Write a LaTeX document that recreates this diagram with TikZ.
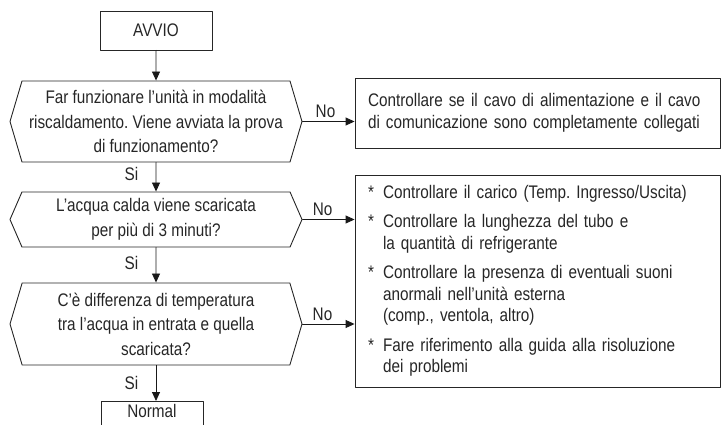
\documentclass[tikz,border=0pt]{standalone}
\usepackage{fontspec}
\setmainfont{Liberation Sans}[FakeStretch=0.84]
\usetikzlibrary{arrows.meta,shapes.symbols}
\frenchspacing

\begin{document}
\begin{tikzpicture}[x=1pt,y=-1pt,>={Triangle[length=9pt,width=8pt]},line cap=round,line join=round,
  every node/.style={font=\fontsize{18.2}{24.5}\selectfont,text=black!85},
  box/.style={draw=black!85,line width=0.9pt,inner sep=0pt},
  hexbox/.style={draw=black!85,line width=0.9pt,signal,signal to=east and west,align=center,inner sep=0pt},
  flow/.style={->,line width=0.9pt,draw=black!90}]
\useasboundingbox (0,0) rectangle (722,425);
\clip (0,0) rectangle (722,425);
\node[box,minimum width=112,minimum height=39] (start) at (156,30.5) {AVVIO};
\node[hexbox,minimum width=292,minimum height=81,signal pointer angle=147] (runtest) at (156,121.5) {Far funzionare l'unità in modalità\\riscaldamento. Viene avviata la prova\\di funzionamento?};
\node[hexbox,minimum width=292,minimum height=55,signal pointer angle=133] (hotwater) at (156,219.5) {L'acqua calda viene scaricata\\per più di 3 minuti?};
\node[hexbox,minimum width=292,minimum height=82,signal pointer angle=147] (tempdiff) at (156,324) {C'è differenza di temperatura\\tra l'acqua in entrata e quella\\scaricata?};
\node[box,anchor=north,minimum width=102,inner ysep=3pt,text depth=22pt] (normal) at (152,401) {Normal};
\node[box,minimum height=70,text width=339,inner xsep=13pt,align=left,font=\fontsize{18.2}{22.5}\selectfont] (checkcable) at (537.5,113) {Controllare se il cavo di alimentazione e il cavo\\di comunicazione sono completamente collegati};
\node[box,minimum height=212,text width=339,inner xsep=13pt,align=left,font=\fontsize{18.2}{21.5}\selectfont] (checklist) at (537.5,281) {\makebox[15pt][l]{*}Controllare il carico (Temp. Ingresso/Uscita)\\[8pt]
\makebox[15pt][l]{*}Controllare la lunghezza del tubo e\\
\hspace*{15pt}la quantità di refrigerante\\[8pt]
\makebox[15pt][l]{*}Controllare la presenza di eventuali suoni\\
\hspace*{15pt}anormali nell’unità esterna\\
\hspace*{15pt}(comp., ventola, altro)\\[8pt]
\makebox[15pt][l]{*}Fare riferimento alla guida alla risoluzione\\
\hspace*{15pt}dei problemi};
\draw[flow] (start) -- (runtest);
\draw[flow] (runtest) -- node[pos=0.4,left=14pt] {Si} (hotwater);
\draw[flow] (hotwater) -- node[pos=0.44,left=14pt] {Si} (tempdiff);
\draw[flow] (tempdiff) -- node[pos=0.5,left=14pt] {Si} (normal.north -| tempdiff.south);
\draw[flow] (runtest.east) -- node[above,xshift=-3pt] {No} (runtest.east -| checkcable.west);
\draw[flow] (hotwater.east) -- node[above,xshift=-6pt] {No} (hotwater.east -| checklist.west);
\draw[flow] (tempdiff.east) -- node[above,xshift=-6pt] {No} (tempdiff.east -| checklist.west);
\end{tikzpicture}
\end{document}
